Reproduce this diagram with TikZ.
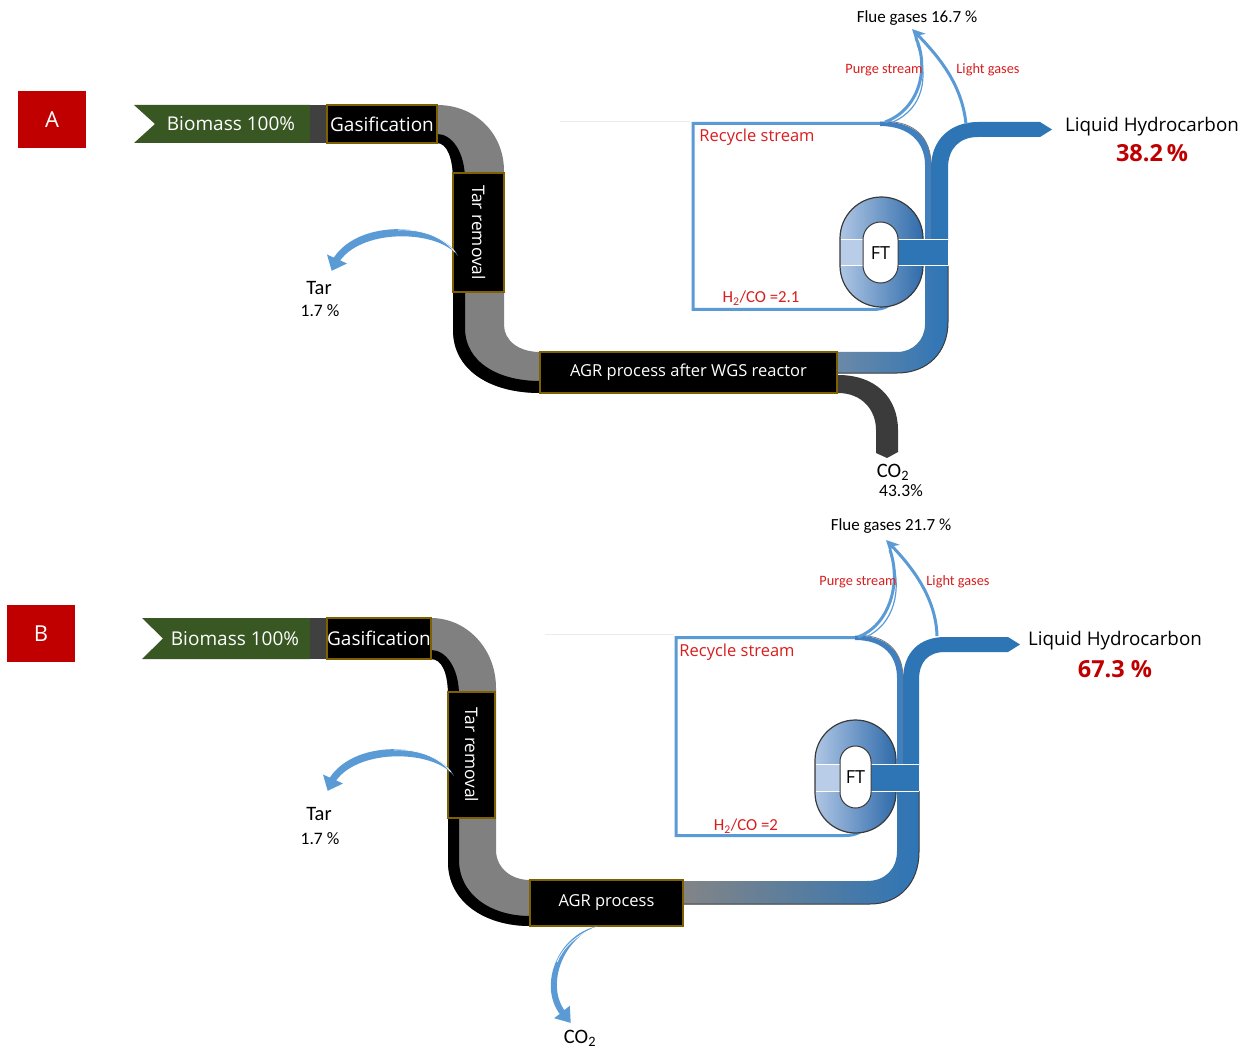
\documentclass[tikz,border=0pt]{standalone}
\usepackage{fontspec}
\setmainfont{Carlito}
\newfontfamily\osans{Open Sans}
\usetikzlibrary{arrows.meta}

\definecolor{labred}{HTML}{C00000}
\definecolor{biogreen}{HTML}{385723}
\definecolor{stubgray}{HTML}{404040}
\definecolor{boxedge}{HTML}{7F6000}
\definecolor{pipegray}{HTML}{808080}
\definecolor{lhblue}{HTML}{2E75B6}
\definecolor{lineblue}{HTML}{5B9BD5}
\definecolor{bandblue}{HTML}{4180C0}
\definecolor{recred}{HTML}{D81E1E}
\definecolor{edgegray}{HTML}{3A3A3A}
\definecolor{ringlight}{HTML}{AFC6E4}
\definecolor{ringdark}{HTML}{2F6BAA}
\definecolor{bandlight}{HTML}{BACDE8}
\definecolor{co2gray}{HTML}{3B3B3B}
\definecolor{bluegrayA}{HTML}{6F8AA6}
\definecolor{bluegrayB}{HTML}{858585}

\begin{document}
\begin{tikzpicture}[x=1pt,y=-1pt,
  panellabel/.style={fill=labred,text=white,minimum width=68pt,minimum height=57pt,inner sep=0pt,font=\osans\fontsize{22}{24}\selectfont},
  biotext/.style={text=white,inner sep=0pt,font=\osans\fontsize{19}{21}\selectfont},
  procbox/.style={fill=black,draw=boxedge,line width=1.2pt,text=white,inner sep=0pt,font=\osans\fontsize{19}{21}\selectfont},
  agrfont/.style={font=\osans\fontsize{16.5}{18}\selectfont},
  tarfont/.style={font=\osans\fontsize{17.3}{19}\selectfont},
  fluetext/.style={inner sep=0pt,font=\fontsize{17}{19}\selectfont},
  redsmall/.style={inner sep=0pt,text=recred,font=\fontsize{14.3}{16}\selectfont},
  lhtext/.style={inner sep=0pt,font=\osans\fontsize{18.8}{21}\selectfont},
  pcttext/.style={inner sep=0pt,text=labred,font=\osans\bfseries\fontsize{23.5}{26}\selectfont},
  rectext/.style={inner sep=0pt,text=recred,font=\osans\fontsize{16.5}{18}\selectfont},
  ratiotext/.style={inner sep=0pt,text=recred,font=\fontsize{16.8}{18}\selectfont},
  ftlabel/.style={inner sep=0pt,font=\osans\fontsize{18}{20}\selectfont},
  tarlabel/.style={inner sep=0pt,font=\fontsize{20.5}{22}\selectfont},
  pctsmall/.style={inner sep=0pt,font=\fontsize{17.5}{19}\selectfont},
  recline/.style={draw=lineblue,line width=3pt},
  flueline/.style={draw=lineblue,line width=3pt},
  pipeedge/.style={draw=edgegray,line width=1pt},
  faint/.style={draw=gray!15,line width=0.8pt}
]
\useasboundingbox[fill=white] (0,0) rectangle (1247,1048);

%% ================= Panel A =================
\node[panellabel] (labA) at (52,119.5) {A};

% faint guide line
\draw[faint] (560,121) -- (690,121);

% grey syngas pipe with black tar band
\fill[pipegray] (430,105) -- (437,105) .. controls (475,105) and (504,133) .. (504,171) -- (504,325)
  .. controls (504,340) and (518,352) .. (540,352) -- (548,352) -- (548,393) -- (540,393)
  .. controls (490,393) and (453,370) .. (453,330) -- (453,180)
  .. controls (453,158) and (447,143) .. (437,143) -- (430,143) -- cycle;
\fill[black] (437,143) .. controls (447,143) and (453,158) .. (453,180) -- (453,330)
  .. controls (453,370) and (490,393) .. (540,393) -- (548,393) -- (548,381) -- (540,381)
  .. controls (498,381) and (465,362) .. (465,328) -- (465,180)
  .. controls (465,152) and (452,134) .. (437,134) -- cycle;

% clean syngas pipe to FT
\shade[left color=bluegrayA,right color=lhblue] (830,352) -- (897,352) .. controls (913,352) and (925,340) .. (925,324)
  -- (925,266) -- (948,266) -- (948,322) .. controls (948,352) and (928,373) .. (897,373) -- (830,373) -- cycle;
\draw[pipeedge] (948,266) -- (948,322) .. controls (948,352) and (928,373) .. (897,373) -- (837,373);

% CO2 pipe
\fill[co2gray] (830,375) -- (838,375) .. controls (876,375) and (898,398) .. (898,430) -- (898,452)
  -- (887,458) -- (876,453) -- (876,430) .. controls (876,410) and (862,393) .. (838,393) -- (830,393) -- cycle;

% recycle loop
\draw[recline] (885,123.5) -- (693,123.5) -- (693,309.5) -- (872,309.5) .. controls (884,309.5) and (890,306) .. (894,300);
\fill[bandblue] (880,121.5) .. controls (915,121.5) and (931,138) .. (931,165) -- (931,242) -- (925,242) -- (925,165)
  .. controls (925,143) and (910,126) .. (880,126) -- cycle;
\draw[edgegray!70,line width=0.8pt] (885,121.5) .. controls (915,121.5) and (931,138) .. (931,165) -- (931,240);

% liquid hydrocarbon product
\fill[lhblue] (931,242) -- (931,168) .. controls (931,140) and (950,122) .. (978,122) -- (1040,122) -- (1052,129.5)
  -- (1040,137) -- (978,137) .. controls (960,137) and (948,148) .. (948,168) -- (948,242) -- cycle;

% flue gas streams
\draw[flueline] (885,122) .. controls (918,110) and (930,70) .. (916,38);
\draw[flueline,line width=1.2pt] (893,122) .. controls (924,108) and (929,76) .. (917,44);
\draw[flueline,-{Stealth[length=13pt,width=13pt]}] (966,124) .. controls (962,85) and (940,58) .. (912,29);

% FT reactor
\shade[left color=ringlight,right color=ringdark,rounded corners=41.5pt] (840,197) rectangle (923,307);
\draw[edgegray,line width=1.2pt,rounded corners=41.5pt] (840,197) rectangle (923,307);
\fill[bandlight] (840.6,240) rectangle (863,266);
\fill[lhblue] (898,240) rectangle (948,266);
\draw[white,line width=1pt] (840.6,240) -- (948,240) (840.6,266) -- (948,266);
\fill[white,draw=edgegray,line width=1pt,rounded corners=17.5pt] (863,222) rectangle (898,283);
\node[ftlabel] (ftA) at (880.5,253) {FT};

% process blocks
\fill[biogreen] (134,105) -- (310,105) -- (310,143) -- (134,143) -- (155,124) -- cycle;
\node[biotext] (bioA) at (231,124) {Biomass 100\%};
\fill[stubgray] (310,105) rectangle (327,143);
\node[procbox,minimum width=110pt,minimum height=38pt] (gasA) at (382,124) {Gasification};
\node[procbox,tarfont,rotate=-90,minimum width=119pt,minimum height=51pt] (tarA) at (478.5,232.5) {Tar removal};
\node[procbox,agrfont,minimum width=297pt,minimum height=41pt] (agrA) at (688.5,372.5) {AGR process after WGS reactor};

% tar draw-off arrow
\fill[lineblue] (458,256) .. controls (440,222) and (360,218) .. (333.8,257.6) -- (327,254.5) -- (331.7,270.8)
  -- (347,263.5) -- (340.2,260.4) .. controls (364,228) and (438,230) .. (458,256) -- cycle;
\draw[white,line width=0.7pt] (455,252) .. controls (440,233) and (415,229) .. (398,230);

% labels
\node[fluetext] (flueA) at (917,18) {Flue gases 16.7 \%};
\node[redsmall] (purgeA) at (884,70) {Purge stream};
\node[redsmall] (lightA) at (988,70) {Light gases};
\node[lhtext] (lhA) at (1152,127) {Liquid Hydrocarbon};
\node[pcttext] (pctA) at (1152,153) {38.2\,\%};
\node[rectext] (recA) at (757,137) {Recycle stream};
\node[ratiotext] (ratA) at (761,298) {H\textsubscript{2}/CO =2.1};
\node[tarlabel] (co2A) at (893,472) {CO\textsubscript{2}};
\node[pctsmall] (co2pA) at (901,491) {43.3\%};
\node[tarlabel] (tarlA) at (319,288) {Tar};
\node[pctsmall] (tarpA) at (320,311) {1.7 \%};

%% ================= Panel B =================
\node[panellabel] (labB) at (41,633.5) {B};

\draw[faint] (545,634) -- (674,634);

% grey syngas pipe with black tar band
\fill[pipegray] (425,618) -- (431,618) .. controls (466,618) and (496,648) .. (496,688) -- (496,850)
  .. controls (496,867) and (510,880) .. (530,880) -- (538,880) -- (538,926) -- (530,926)
  .. controls (485,926) and (448,902) .. (448,862) -- (448,695)
  .. controls (448,673) and (442,659) .. (431,659) -- (425,659) -- cycle;
\fill[black] (431,659) .. controls (442,659) and (448,673) .. (448,695) -- (448,862)
  .. controls (448,902) and (485,926) .. (530,926) -- (538,926) -- (538,916) -- (530,916)
  .. controls (490,916) and (459,894) .. (459,860) -- (459,695)
  .. controls (459,668) and (446,650) .. (431,650) -- cycle;

% clean syngas pipe to FT
\shade[left color=bluegrayB,right color=lhblue] (675,881) -- (867,881) .. controls (885,881) and (897,869) .. (897,851)
  -- (897,791) -- (919,791) -- (919,852) .. controls (919,882) and (900,904) .. (870,904) -- (675,904) -- cycle;
\draw[pipeedge] (919,791) -- (919,852) .. controls (919,882) and (900,904) .. (870,904) -- (683,904);

% recycle loop
\draw[recline] (860,637.5) -- (676,637.5) -- (676,835.5) -- (845,835.5) .. controls (856,835.5) and (862,832) .. (866,826);
\fill[bandblue] (855,635.5) .. controls (887,635.5) and (903,652) .. (903,678) -- (903,766) -- (897,766) -- (897,678)
  .. controls (897,656) and (884,640) .. (855,640) -- cycle;
\draw[edgegray!70,line width=0.8pt] (860,635.5) .. controls (887,635.5) and (903,652) .. (903,678) -- (903,764);

% liquid hydrocarbon product
\fill[lhblue] (903,766) -- (903,680) .. controls (903,652) and (920,637) .. (945,637) -- (1008,637) -- (1020,644.5)
  -- (1008,652) -- (945,652) .. controls (928,652) and (919,662) .. (919,680) -- (919,766) -- cycle;

% flue gas streams
\draw[flueline] (858,637) .. controls (888,626) and (902,585) .. (890,550);
\draw[flueline,line width=1.2pt] (866,637) .. controls (894,624) and (903,590) .. (891,556);
\draw[flueline,-{Stealth[length=13pt,width=13pt]}] (937,636) .. controls (936,600) and (915,570) .. (886,540);

% FT reactor
\shade[left color=ringlight,right color=ringdark,rounded corners=40.5pt] (815,720) rectangle (896,833);
\draw[edgegray,line width=1.2pt,rounded corners=40.5pt] (815,720) rectangle (896,833);
\fill[bandlight] (815.6,764) rectangle (840,791);
\fill[lhblue] (871,764) rectangle (919,791);
\draw[white,line width=1pt] (815.6,764) -- (919,764) (815.6,791) -- (919,791);
\fill[white,draw=edgegray,line width=1pt,rounded corners=15.5pt] (840,746) rectangle (871,808);
\node[ftlabel] (ftB) at (855.5,777) {FT};

% process blocks
\fill[biogreen] (142,618) -- (310,618) -- (310,659) -- (142,659) -- (163,638.5) -- cycle;
\node[biotext] (bioB) at (235,638.5) {Biomass 100\%};
\fill[stubgray] (310,618) rectangle (327,659);
\node[procbox,minimum width=104pt,minimum height=41pt] (gasB) at (379,638.5) {Gasification};
\node[procbox,tarfont,rotate=-90,minimum width=126pt,minimum height=47pt] (tarB) at (471.5,755) {Tar removal};
\node[procbox,agrfont,minimum width=153pt,minimum height=46pt] (agrB) at (606.5,903) {AGR process};

% tar draw-off arrow
\begin{scope}[shift={(-4,520)}]
\fill[lineblue] (458,256) .. controls (440,222) and (360,218) .. (333.8,257.6) -- (327,254.5) -- (331.7,270.8)
  -- (347,263.5) -- (340.2,260.4) .. controls (364,228) and (438,230) .. (458,256) -- cycle;
\draw[white,line width=0.7pt] (455,252) .. controls (440,233) and (415,229) .. (398,230);
\end{scope}

% CO2 draw-off arrow
\fill[lineblue] (598,926) .. controls (558,934) and (538,985) .. (559.7,1013.9) -- (554.2,1018.2) -- (570.7,1022.9)
  -- (569.8,1005.8) -- (564.3,1010.1) .. controls (546,984) and (563,938) .. (598,926) -- cycle;
\draw[white,line width=0.7pt] (594,928) .. controls (575,936) and (563,948) .. (557,962);

% labels
\node[fluetext] (flueB) at (891,526) {Flue gases 21.7 \%};
\node[redsmall] (purgeB) at (858,582) {Purge stream};
\node[redsmall] (lightB) at (958,582) {Light gases};
\node[lhtext] (lhB) at (1115,641) {Liquid Hydrocarbon};
\node[pcttext] (pctB) at (1115,669) {67.3 \%};
\node[rectext] (recB) at (737,652) {Recycle stream};
\node[ratiotext] (ratB) at (746,826) {H\textsubscript{2}/CO =2};
\node[tarlabel] (co2B) at (580,1038) {CO\textsubscript{2}};
\node[tarlabel] (tarlB) at (319,814) {Tar};
\node[pctsmall] (tarpB) at (320,839) {1.7 \%};
\end{tikzpicture}
\end{document}
